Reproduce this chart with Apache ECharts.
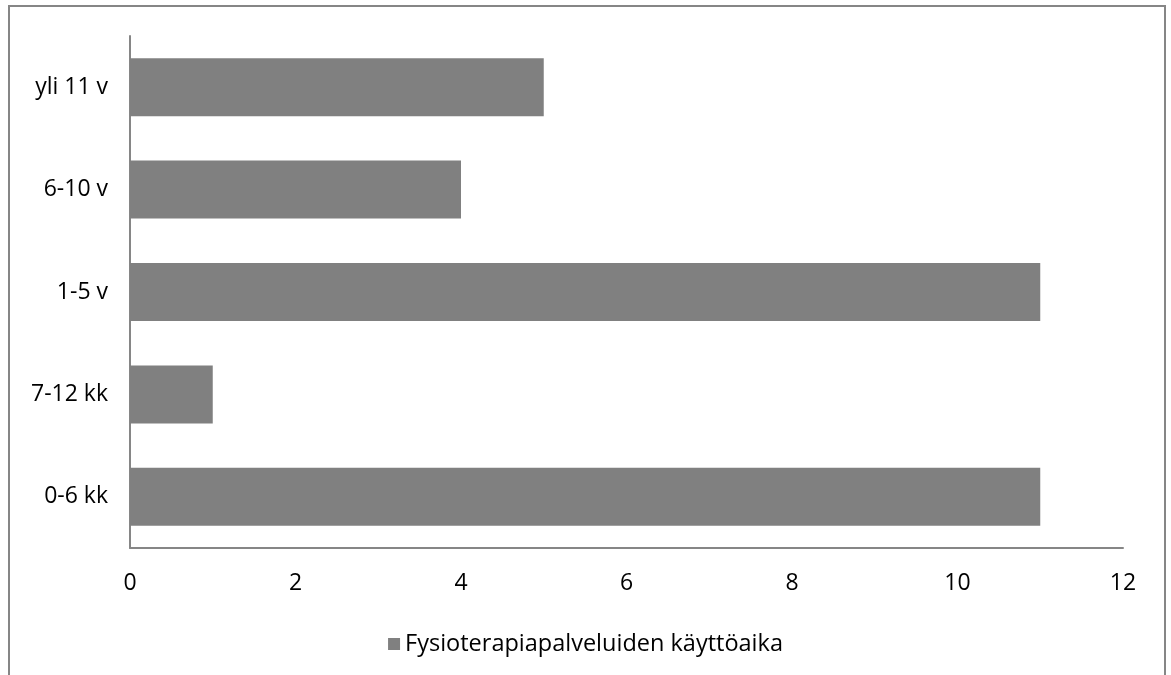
<!DOCTYPE html>
<html>
<head>
<meta charset="utf-8">
<script src="https://cdn.jsdelivr.net/npm/echarts@6/dist/echarts.min.js"></script>
<style>
  html, body { margin: 0; padding: 0; background: #fff; }
  #chart { width: 1171px; height: 675px; }
</style>
</head>
<body>
<div id="chart"></div>
<script>
// 数据
const categories = ['0-6 kk', '7-12 kk', '1-5 v', '6-10 v', 'yli 11 v'];
const values = [11, 1, 11, 4, 5];
const seriesName = 'Fysioterapiapalveluiden käyttöaika';
const xTicks = { min: 0, max: 12, interval: 2 };

const font = 'Open Sans';

const chart = echarts.init(document.getElementById('chart'));
chart.setOption({
    animation: false,
    graphic: [{
        type: 'rect',
        shape: { x: 9, y: 6, width: 1156, height: 700 },
        style: { fill: 'none', stroke: '#868686', lineWidth: 2 },
        silent: true
    }],
    grid: { left: 130, right: 48, top: 36, bottom: 127 },
    legend: {
        top: 627,
        left: 'center',
        itemWidth: 12,
        itemHeight: 12,
        itemGap: 7,
        icon: 'rect',
        textStyle: { color: '#000', fontSize: 23.5, fontFamily: font },
        data: [seriesName]
    },
    xAxis: {
        type: 'value',
        min: xTicks.min,
        max: xTicks.max,
        interval: xTicks.interval,
        axisLine: { show: true, lineStyle: { color: '#868686', width: 2 } },
        axisTick: { show: false },
        splitLine: { show: false },
        axisLabel: { color: '#000', fontSize: 23, fontFamily: font, margin: 24 }
    },
    yAxis: {
        type: 'category',
        data: categories,
        axisLine: { show: true, lineStyle: { color: '#868686', width: 2 } },
        axisTick: { show: false },
        axisLabel: { color: '#000', fontSize: 23, fontFamily: font, margin: 22 }
    },
    series: [{
        name: seriesName,
        type: 'bar',
        data: values,
        barWidth: 58,
        itemStyle: { color: '#808080' }
    }]
});
</script>
</body>
</html>
